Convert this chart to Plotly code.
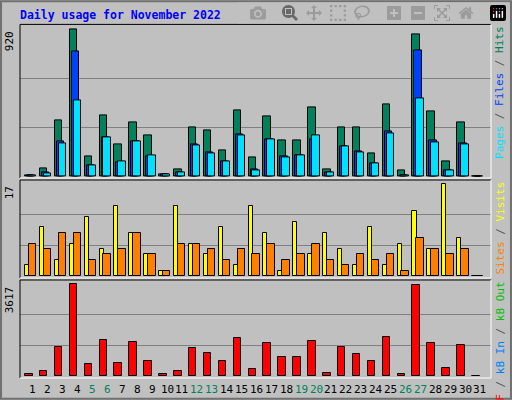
import plotly.graph_objects as go

days = list(range(1, 32))
hits = [6,50,350,920,125,382,200,338,257,12,44,307,288,163,413,119,375,225,225,432,44,307,307,144,451,38,889,407,94,338,0]
files = [6,25,219,782,69,244,88,219,125,12,25,200,150,94,263,44,232,125,131,232,25,188,156,81,282,6,789,225,38,207,0]
pages = [6,19,207,476,69,244,94,219,131,12,25,194,144,94,257,38,232,119,131,257,25,188,150,81,269,6,489,213,38,200,0]
visits = [2,9,3,6,11,5,13,8,4,1,13,6,4,9,2,13,8,1,10,4,8,5,2,9,2,6,12,5,17,7,0]
sites = [6,5,8,8,3,4,5,8,4,1,6,6,5,3,5,4,6,3,4,6,3,2,4,3,4,1,7,5,4,5,0]
kbytes = [66,172,1122,3617,449,1399,488,1320,568,66,172,1082,884,568,1478,251,1280,726,726,1360,92,1122,845,568,1518,66,3577,1280,290,1201,0]
weekend = [5,6,12,13,19,20,26,27]
title = "Daily usage for November 2022"

BG = "#C0C0C0"
mono = "DejaVu Sans Mono"
fig = go.Figure()

def bars(y, color, off, w, ax):
    fig.add_trace(go.Bar(x=days, y=y, width=w, offset=off, marker=dict(color=color, line=dict(color="black", width=1)),
                         xaxis=ax[0], yaxis=ax[1], showlegend=False))

bars(hits, "#00805C", -0.53, 0.5, ("x", "y"))
bars(files, "#0040FF", -0.4, 0.5, ("x", "y"))
bars(pages, "#00E0FF", -0.27, 0.5, ("x", "y"))
bars(visits, "#FFFF00", -0.53, 0.27, ("x2", "y2"))
bars(sites, "#FF8000", -0.27, 0.5, ("x2", "y2"))
bars(kbytes, "#FF0000", -0.53, 0.5, ("x3", "y3"))

xr = [0.13, 31.74]
panels = [("y", [0.555, 0.939], [-10.6, 951], max(hits)),
          ("y2", [0.305, 0.55], [-0.37, 17.8], max(visits)),
          ("y3", [0.055, 0.3], [-91, 3787], max(kbytes))]
layout = dict(width=512, height=400, margin=dict(l=0, r=0, t=0, b=0),
              paper_bgcolor=BG, plot_bgcolor=BG, barmode="overlay", bargap=0)
for i, (ya, dom, rng, mx) in enumerate(panels):
    xk = "xaxis" if i == 0 else f"xaxis{i+1}"
    yk = "yaxis" if i == 0 else f"yaxis{i+1}"
    layout[xk] = dict(domain=[20/512, 491/512], range=xr, anchor=ya, showticklabels=False,
                      showgrid=False, zeroline=False, ticks="")
    layout[yk] = dict(domain=dom, range=rng, anchor="x" if i == 0 else f"x{i+1}",
                      tickvals=[mx/3, 2*mx/3], showticklabels=False, gridcolor="#808080",
                      gridwidth=1, zeroline=False, ticks="")
    fig.add_annotation(x=9/512, y=dom[1]-0.012, xref="paper", yref="paper", text=str(mx), showarrow=False,
                       textangle=-90, xanchor="center", yanchor="top", font=dict(family=mono, size=11, color="black"))
    fig.add_shape(type="line", xref="paper", yref="paper", x0=20/512, x1=491/512, y0=dom[1], y1=dom[1], line=dict(color="black", width=1))
    fig.add_shape(type="line", xref="paper", yref="paper", x0=20/512, x1=20/512, y0=dom[0], y1=dom[1], line=dict(color="black", width=1))
    fig.add_shape(type="line", xref="paper", yref="paper", x0=20/512, x1=491/512, y0=dom[0], y1=dom[0], line=dict(color="white", width=1))
    fig.add_shape(type="line", xref="paper", yref="paper", x0=491/512, x1=491/512, y0=dom[0], y1=dom[1], line=dict(color="white", width=1))
fig.update_layout(**layout)

fig.add_shape(type="rect", xref="paper", yref="paper", x0=0.002, x1=0.998, y0=0.003, y1=0.997, line=dict(color="#707070", width=2))

fig.add_annotation(x=18/512, y=1-15/400, xref="paper", yref="paper", text="<b>"+title+"</b>", showarrow=False,
                   xanchor="left", yanchor="middle", font=dict(family=mono, size=11.5, color="#0000FF"))

rlabels = [('<span style="color:#00E0FF">Pages</span> / <span style="color:#0040FF">Files</span> / <span style="color:#00805C">Hits</span>', 0.939),
           ('<span style="color:#FF8000">Sites</span> / <span style="color:#FFFF00">Visits</span>', 0.55),
           ('<span style="color:#FF0000">kB F</span> / <span style="color:#0080FF">kB In</span> / <span style="color:#00C000">kB Out</span>', 0.3)]
for t, ytop in rlabels:
    fig.add_annotation(x=500/512, y=ytop, xref="paper", yref="paper", text=t, showarrow=False, textangle=-90,
                       xanchor="center", yanchor="top", font=dict(family=mono, size=11, color="#555"))

for d in days:
    fig.add_annotation(x=d, y=1-389/400, xref="x3", yref="paper", text=str(d), showarrow=False,
                       xanchor="center", yanchor="middle",
                       font=dict(family=mono, size=11, color="#00805C" if d in weekend else "black"))

fig.write_html("out.html", post_script="document.body.style.margin='0';document.body.style.overflow='hidden';")
